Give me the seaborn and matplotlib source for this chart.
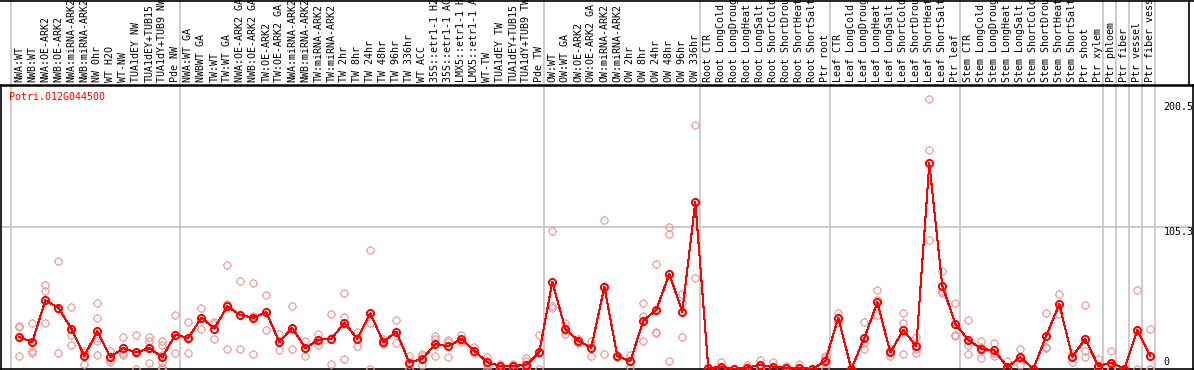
import numpy as np
import pandas as pd
import matplotlib
matplotlib.use("Agg")
import matplotlib.pyplot as plt
from matplotlib.path import Path
from matplotlib.lines import Line2D
import seaborn as sns

gene_name = "Potri.012G044500"

categories = [
    "NWA:WT", "NWB:WT", "NWA:OE-ARK2", "NWB:OE-ARK2", "NWA:miRNA-ARK2", "NWB:miRNA-ARK2",
    "NW 0hr", "WT H2O", "WT-NW", "TUA1dEY NW", "TUA1dEY+TUB15", "TUA1dY+TUB9 NW", "Pde NW",
    "NWA:WT GA", "NWBWT GA", "TW:WT", "TW:WT GA", "NWA:OE-ARK2 GA", "NWB:OE-ARK2 GA",
    "TW:OE-ARK2", "TW:OE-ARK2 GA", "NWA:miRNA-ARK2", "NWB:miRNA-ARK2", "TW:miRNA-ARK2",
    "TW:miRNA-ARK2", "TW 2hr", "TW 8hr", "TW 24hr", "TW 48hr", "TW 96hr", "TW 336hr",
    "WT ACC", "35S::etr1-1 H2", "35S::etr1-1 AC", "LMX5::etr1-1 H", "LMX5::etr1-1 A",
    "WT-TW", "TUA1dEY TW", "TUA1dEY+TUB15", "TUA1dY+TUB9 TW", "Pde TW",
    "OW:WT", "OW:WT GA", "OW:OE-ARK2", "OW:OE-ARK2 GA", "OW:miRNA-ARK2", "OW:miRNA-ARK2",
    "OW 2hr", "OW 8hr", "OW 24hr", "OW 48hr", "OW 96hr", "OW 336hr",
    "Root CTR", "Root LongCold", "Root LongDroug", "Root LongHeat", "Root LongSalt",
    "Root ShortCold", "Root ShortDrou", "Root ShortHeat", "Root ShortSalt", "Ptr root",
    "Leaf CTR", "Leaf LongCold", "Leaf LongDroug", "Leaf LongHeat", "Leaf LongSalt",
    "Leaf ShortCold", "Leaf ShortDrou", "Leaf ShortHeat", "Leaf ShortSalt", "Ptr leaf",
    "Stem CTR", "Stem LongCold", "Stem LongDroug", "Stem LongHeat", "Stem LongSalt",
    "Stem ShortCold", "Stem ShortDrou", "Stem ShortHeat", "Stem ShortSalt", "Ptr shoot",
    "Ptr xylem", "Ptr phloem", "Ptr fiber", "Ptr vessel", "Ptr fiber vess",
]

mean_values = [
    23.75, 20, 51, 45.5, 30, 9.75, 28, 8.75, 15.5, 12.25, 15.5, 8.75, 25.5,
    23, 38, 30, 46.5, 40, 38, 42, 20, 30.5, 15.5, 21.75, 22.25, 34.25, 22.5,
    41.25, 20, 27.75, 4.75, 7.5, 18.5, 16.75, 22.5, 13.5, 5, 2.25, 2.25, 3, 12.5,
    64.5, 29.75, 21, 15.75, 61, 9.75, 5.75, 35.75, 44, 70.5, 42.5, 124,
    0.5, 1.75, 0, 1, 3, 1.75, 1, 1, 0, 6,
    38, 0, 23, 49.5, 12.25, 29, 16.75, 152.5, 61.75, 33.5,
    21.5, 15, 13.75, 1.5, 8.75, 0, 24.75, 48, 9.25, 22.25,
    2.25, 4.75, 0, 29, 9.75,
]

replicate_values = [
    [31, 32, 10], [34, 13.5, 12], [62, 58, 34], [80, 12, 44.5], [46, 25, 18],
    [13.5, 3.5, 12], [49, 38, 23, 21, 10.5], [13, 6.75, 5.5], [23.75, 11.5, 10.5],
    [25, 0, 12], [23.5, 21, 15.5, 4.25], [21, 18, 10.5, 5.5, 1.75, 0], [40, 12, 25],
    [34.5, 12, 22], [45.5, 30, 38], [34.5, 22, 33.5], [77, 14.75, 48], [65, 14.75, 40],
    [64, 11, 39], [55, 29, 42], [26, 14, 20], [47, 14.75, 30], [21, 10, 15.5],
    [26, 17.75, 21.5], [40.5, 3.5, 22.75], [56, 38.75, 7.25], [27.5, 17.25, 22.75],
    [88, 33.75, 0], [22.5, 18.5, 19], [36.5, 19, 27.75], [10, 0, 4], [11.25, 10, 3],
    [24.5, 22.5, 10], [21.5, 8.75, 20], [25.5, 21.75, 20], [16, 11.5, 13], [9.25, 3, 0],
    [4, 1.75, 1], [4, 1.75, 1], [8, 6, 0], [25.5, 0, 12],
    [102.3, 46.5, 45], [34, 26, 29], [22.5, 19.25, 21], [21, 10, 16], [110.5, 11.25, 61.5],
    [10, 9, 10], [10.5, 1.75, 5], [48.75, 39.5, 21], [78, 27.75, 27], [105, 100.1, 6],
    [55.5, 48.75, 24], [180.7, 67.5, 124],
    [1, 0.5, 0], [5, 0, 0], [0, 0, 0], [3, 0, 0], [6.75, 1, 1], [5, 0, 0], [2.25, 0, 0],
    [3.5, 0, 0], [0, 0, 0], [10, 0, 8],
    [41.75, 35, 37], [0, 0, 0], [35, 14.75, 19], [58.5, 51, 39.75], [14, 9.75, 13],
    [41.75, 33.75, 11], [24, 11.5, 15], [200.5, 162.2, 95.7], [72.75, 58, 56.25],
    [49.25, 25.5, 24.25],
    [36.5, 18, 11], [21, 8, 16], [19, 11.75, 10], [6, 0, 0], [15, 3, 8], [0, 0, 0],
    [41.75, 16.25, 15.5], [55.5, 40.5, 48], [11.75, 5.5, 10], [47.25, 13, 9.25],
    [7.5, 0, 0], [13.5, 0, 1], [0, 0, 0], [58.5, 0, 28.5], [30, 0, 0],
]

group_separators = [-0.5, 12.5, 40.5, 52.5, 62.5, 72.5, 83.5, 84.5, 85.5, 86.5, 87.5]
y_label_values = ["200.5", "105.3", "0"]
y_grid_value = 105.3
y_max = 210.6

# ---- data frames ----
pos = np.arange(len(categories))
mean_df = pd.DataFrame({"pos": pos, "value": mean_values})
rep_rows = [(i, v) for i, reps in enumerate(replicate_values) for v in reps]
rep_df = pd.DataFrame(rep_rows, columns=["pos", "value"])

# ---- style ----
sns.set_style("white")
plt.rcParams["font.family"] = ["DejaVu Sans Mono"]

W, H = 1194, 370
fig = plt.figure(figsize=(W / 100, H / 100), dpi=100)
ax = fig.add_axes([1 / W, 1 / H, 1192 / W, 284 / H])

# circle marker with four small ticks
circle = Path.unit_circle()
tk = 1.3
ticks = Path([(0, 1), (0, tk), (0, -1), (0, -tk), (1, 0), (tk, 0), (-1, 0), (-tk, 0)],
             [Path.MOVETO, Path.LINETO] * 4)
marker = Path.make_compound_path(circle, ticks)

pink = "#ee9999"
sns.lineplot(data=rep_df, x="pos", y="value", estimator=None, sort=False,
             linestyle="", marker=marker, markersize=6.6, markerfacecolor="none",
             markeredgecolor=pink, markeredgewidth=0.8, color=pink, ax=ax, zorder=3,
             antialiased=False)
sns.lineplot(data=mean_df, x="pos", y="value", estimator=None, sort=False,
             color="#ff0000", linewidth=0.75, marker=marker, markersize=6.6,
             markerfacecolor="none", markeredgecolor="#ff0000", markeredgewidth=1.4,
             ax=ax, zorder=4, antialiased=False)

ax.set_xlim((1 - 19.3) / 13, (1193 - 19.3) / 13)
ax.set_ylim(0, y_max)

# grid lines
grid_c = "#c4c4c4"
ax.axhline(y_grid_value, color=grid_c, linewidth=1.2, zorder=1)
top_ext = 1 + 85 / 284
for s in group_separators:
    ax.axvline(s - 0.12, ymin=0, ymax=top_ext, color=grid_c, linewidth=1.2,
               clip_on=False, zorder=1)

# category labels on top
ax.xaxis.tick_top()
ax.set_xticks(pos)
ax.set_xticklabels(categories, rotation=90, fontsize=7.2, color="black")
ax.tick_params(axis="x", length=0, pad=1.8)
ax.set_yticks([])
ax.set_xlabel("")
ax.set_ylabel("")

for side in ["left", "right", "bottom"]:
    ax.spines[side].set_color("black")
    ax.spines[side].set_linewidth(1.2)
ax.spines["top"].set_color("black")
ax.spines["top"].set_linewidth(1.8)

# gene name
fig.text(9.5 / W, 1 - 97.5 / H, gene_name, color="#ff0000", fontsize=7.2,
         ha="left", va="center")

# y value labels at right
for txt, ypix in zip(y_label_values, [107, 232, 362]):
    fig.text(1163.5 / W, 1 - ypix / H, txt, color="black", fontsize=7.2,
             ha="left", va="center")

# frame lines of label area
fig.add_artist(Line2D([0, 1], [1 - 0.6 / H, 1 - 0.6 / H], color="black", linewidth=1.2))
fig.add_artist(Line2D([1188.5 / W, 1188.5 / W], [1 - 85 / H, 1], color="black", linewidth=1.2))

fig.savefig("out.png", dpi=100)
